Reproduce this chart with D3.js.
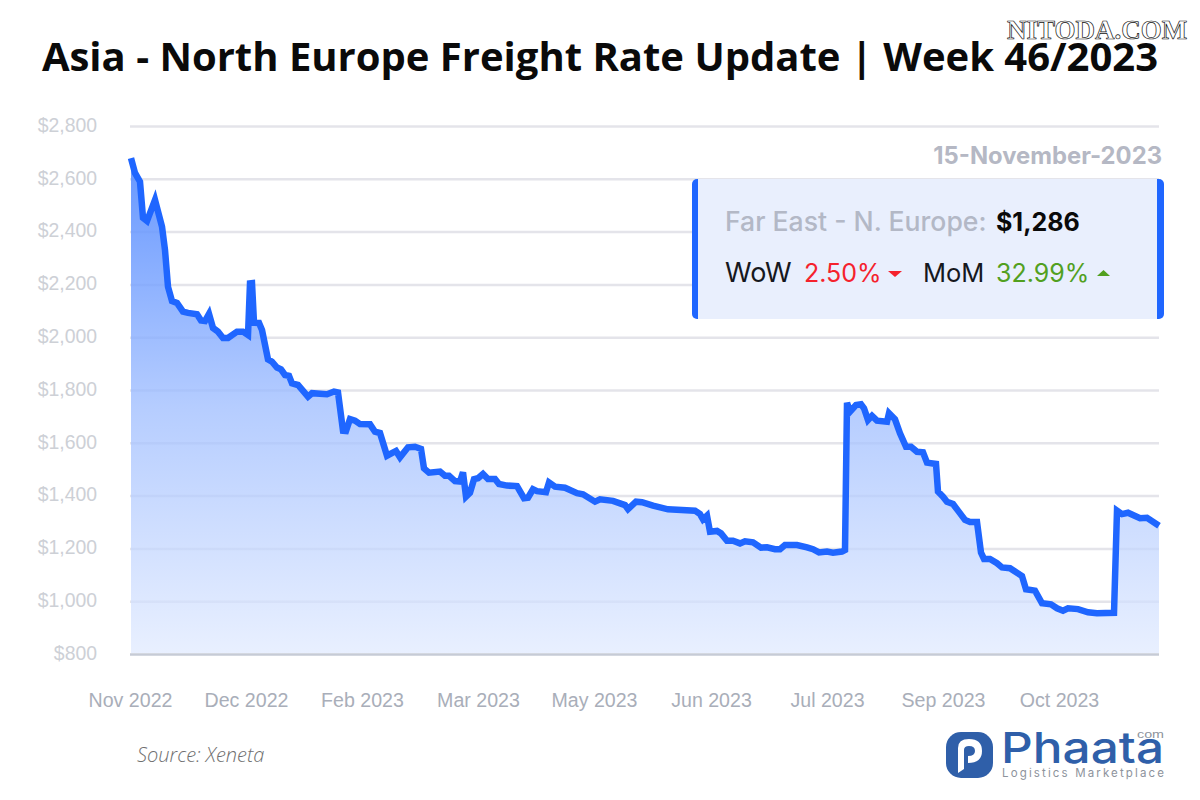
<!DOCTYPE html>
<html>
<head>
<meta charset="utf-8">
<title>Asia - North Europe Freight Rate Update</title>
<script src="https://cdn.jsdelivr.net/npm/d3@7"></script>
<style>
  html, body { margin: 0; padding: 0; background: #fff; }
  svg { display: block; }
</style>
</head>
<body>
<svg id="chart" width="1200" height="800"></svg>
<script>
// position of each reading along the category axis
const steps = [1,5,10,13,17,25,32,35,38,42,47,53,58,67,71,75,79,83,88,93,98,107,113,118,120,122,124,129,132,138,142,147,151,155,159,162,168,178,182,197,204,208,213,216,220,225,230,240,245,250,257,266,270,278,285,291,294,299,310,315,319,325,330,333,336,340,344,348,353,358,365,369,377,387,394,398,403,407,416,419,425,435,447,453,465,470,483,495,498,506,512,523,538,565,570,573,577,580,587,591,597,603,610,615,623,631,637,645,650,655,667,677,683,689,697,703,712,715,717,720,726,731,734,738,742,747,757,759,765,770,776,781,787,793,797,806,808,813,817,823,828,835,840,847,851,854,860,867,872,880,892,896,905,912,921,927,933,938,948,958,967,984,987,992,998,1010,1017,1029];

// USD per FEU
const rates = [2678,2622,2589,2452,2440,2520,2419,2330,2191,2137,2130,2097,2092,2087,2063,2061,2088,2035,2021,1997,1997,2021,2021,2008,2204,2205,2055,2054,2027,1916,1907,1885,1878,1857,1854,1825,1819,1775,1788,1784,1794,1791,1646,1645,1690,1684,1671,1670,1642,1637,1551,1569,1545,1583,1585,1577,1503,1487,1491,1475,1475,1455,1453,1488,1396,1411,1462,1466,1482,1463,1463,1444,1438,1436,1390,1392,1424,1417,1413,1450,1434,1430,1409,1405,1377,1386,1380,1364,1349,1377,1375,1362,1348,1343,1330,1310,1324,1263,1266,1257,1229,1229,1219,1227,1223,1203,1204,1197,1197,1213,1213,1204,1197,1185,1188,1184,1188,1194,1752,1718,1743,1746,1731,1686,1702,1684,1680,1712,1689,1636,1585,1585,1566,1564,1525,1520,1415,1396,1377,1368,1343,1308,1300,1300,1184,1160,1160,1144,1128,1125,1095,1045,1040,992,988,973,964,973,970,958,954,956,1343,1330,1335,1314,1316,1286];

const yTicks = [800,1000,1200,1400,1600,1800,2000,2200,2400,2600,2800];
const xTickSteps = [0,116,232,348,464,581,697,813,929];
const xTickLabels = ['Nov 2022','Dec 2022','Feb 2023','Mar 2023','May 2023','Jun 2023','Jul 2023','Sep 2023','Oct 2023'];

const svg = d3.select('#chart');
const data = steps.map((s, i) => ({ step: s, rate: rates[i] }));

const x = d3.scaleLinear().domain([0, 1029]).range([130, 1159]);
const y = d3.scaleLinear().domain([800, 2800]).range([654, 126]);

// gradient under the line
const grad = svg.append('defs').append('linearGradient')
  .attr('id', 'areaFill')
  .attr('gradientUnits', 'userSpaceOnUse')
  .attr('x1', 0).attr('x2', 0)
  .attr('y1', y(2678)).attr('y2', y(800));
[[0, 0.68], [0.5, 0.33], [1, 0.1]].forEach(([o, a]) => {
  grad.append('stop').attr('offset', o).attr('stop-color', '#1f66ff').attr('stop-opacity', a);
});

// title
svg.append('text')
  .attr('x', 600).attr('y', 71)
  .attr('text-anchor', 'middle')
  .style('font', '700 40px "Open Sans"')
  .attr('fill', '#0a0a0a')
  .text('Asia - North Europe Freight Rate Update | Week 46/2023');

svg.append('text')
  .attr('x', 1007).attr('y', 39)
  .style('font', '700 27px "Liberation Serif"')
  .attr('fill', '#fff')
  .attr('stroke', '#111')
  .attr('stroke-width', 0.7)
  .text('NITODA.COM');

// y axis + gridlines
const yAxis = svg.append('g')
  .attr('transform', `translate(${x(0)},0)`)
  .call(d3.axisLeft(y).tickValues(yTicks).tickSize(-(x(1029) - x(0))).tickPadding(33)
    .tickFormat(d => '$' + d3.format(',')(d)));
yAxis.select('.domain').remove();
yAxis.selectAll('line').attr('stroke', d => d === 800 ? '#c6cbd6' : '#e4e4ea').attr('stroke-width', 2.5);
yAxis.selectAll('text').attr('y', -1).style('font', '19.4px "Liberation Sans"').attr('fill', '#cdd0d6');

// x axis
const xAxis = svg.append('g')
  .attr('transform', `translate(0,${y(800)})`)
  .call(d3.axisBottom(x).tickValues(xTickSteps).tickSize(0).tickPadding(39)
    .tickFormat((d, i) => xTickLabels[i]));
xAxis.select('.domain').remove();
xAxis.selectAll('text').style('font', '19.6px "Liberation Sans"').attr('fill', '#a9aeb9');

// area and line, white underlay keeps the gridlines faint behind the fill
const area = d3.area().x(d => x(d.step)).y0(y(800) - 1).y1(d => y(d.rate));
svg.append('path').datum(data).attr('fill', '#fff').attr('fill-opacity', 0.65).attr('d', area);
svg.append('path').datum(data).attr('fill', 'url(#areaFill)').attr('d', area);

svg.append('path').datum(data)
  .attr('fill', 'none')
  .attr('stroke', '#1f66ff')
  .attr('stroke-width', 6.5)
  .attr('stroke-linejoin', 'miter')
  .attr('d', d3.line().x(d => x(d.step)).y(d => y(d.rate)));

// date + summary box
svg.append('text')
  .attr('x', 1162).attr('y', 164)
  .attr('text-anchor', 'end')
  .style('font', '700 23.8px Inter')
  .attr('fill', '#b5b8c4')
  .text('15-November-2023');

const box = svg.append('g');
box.append('rect').attr('x', 692).attr('y', 179).attr('width', 472).attr('height', 140).attr('rx', 5).attr('fill', '#1f66ff');
box.append('rect').attr('x', 698).attr('y', 179).attr('width', 459).attr('height', 140).attr('fill', '#e9effd');

function label(txt, px, py, size, weight, color) {
  box.append('text').attr('x', px).attr('y', py)
    .style('font', `${weight} ${size}px Inter`)
    .attr('fill', color)
    .text(txt);
}
label('Far East - N. Europe:', 725, 231, 26.6, 500, '#b3b8c6');
label('$1,286', 996, 231, 25, 700, '#0a0a0a');
label('WoW', 725, 282, 27, 400, '#16181d');
label('2.50%', 804, 282, 25, 400, '#f5222d');
label('MoM', 923, 282, 25.5, 400, '#16181d');
label('32.99%', 996, 282, 25, 400, '#52a01f');

box.append('path').attr('d', 'M888,271h14l-7,6z').attr('fill', '#f5222d');
box.append('path').attr('d', 'M1097,276h13l-6.5,-6z').attr('fill', '#52a01f');

// source
svg.append('text')
  .attr('x', 137).attr('y', 762)
  .style('font', 'italic 300 20px "Open Sans"')
  .attr('fill', '#6f6f6f')
  .text('Source: Xeneta');

// logo
const logo = svg.append('g');
logo.append('rect').attr('x', 946).attr('y', 732).attr('width', 47).attr('height', 46).attr('rx', 15).attr('fill', '#2f5fa9');
logo.append('path')
  .attr('d', 'M958,773V748Q958,739 969,739Q982,739 982,751Q982,763 968,763V756Q975,756 975,751Q975,746 969,746Q964,746 964,750V769Z')
  .attr('fill', '#fff');
logo.append('text').attr('x', 1001).attr('y', 763)
  .attr('textLength', 163).attr('lengthAdjust', 'spacingAndGlyphs')
  .style('font', '500 43px Inter').attr('fill', '#2f5fa9').text('Phaata');
logo.append('text').attr('x', 1137).attr('y', 738)
  .attr('textLength', 27).attr('lengthAdjust', 'spacingAndGlyphs')
  .style('font', '11px "Liberation Sans"').attr('fill', '#8d939c').text('com');
logo.append('text').attr('x', 1002).attr('y', 777)
  .attr('textLength', 162).attr('lengthAdjust', 'spacing')
  .style('font', '11.5px Inter').attr('fill', '#8d939c').text('Logistics  Marketplace');
</script>
</body>
</html>
